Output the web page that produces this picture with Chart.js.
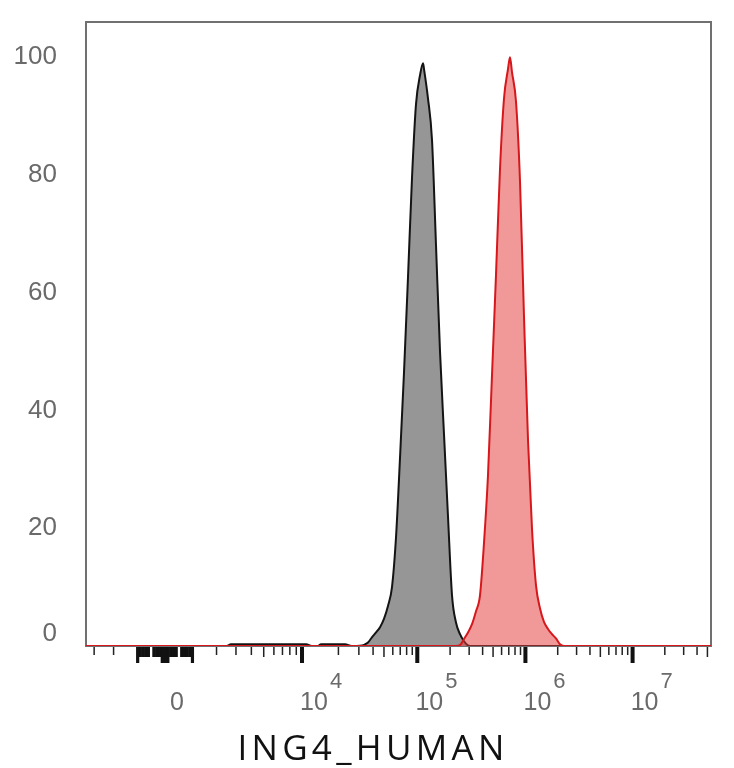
<!DOCTYPE html>
<html>
<head>
<meta charset="utf-8">
<script src="https://cdn.jsdelivr.net/npm/chart.js@4.4.1/dist/chart.umd.min.js"></script>
<style>
  html, body { margin: 0; padding: 0; background: #fff; }
  canvas { display: block; }
</style>
</head>
<body>
<canvas id="chart-ing4" width="734" height="768"></canvas>
<script>
// fluorescence intensity (x) and % of max (y)
const GRAY_X = [-3500, 2500, 2720, 10800, 12000, 13500, 14300, 22800, 26000,
  30700, 33300, 36100, 39200, 42500, 46100, 50000, 54300, 59000, 64100, 69700,
  75700, 82300, 89500, 97300, 106000, 112800, 115200, 125300, 136300, 148400,
  161500, 175700, 191300, 208300, 226700, 246900, 268800, 292700, 318800, 54000000];
const GRAY_Y = [0, 0, 0.3, 0.3, 0, 0, 0.3, 0.3, 0,
  0.05, 0.2, 0.6, 1.5, 2.3, 3.2, 4.6, 6.8, 10, 18.4, 32,
  46.4, 62.6, 79.5, 92, 97, 99, 98, 93, 86, 68,
  50, 36, 22, 8.6, 4.0, 2.0, 0.8, 0.1, 0, 0];

const RED_X = [-3500, 226700, 246900, 268800, 292700, 318800, 347200, 378100,
  411900, 448600, 488700, 532300, 579900, 631800, 688300, 718400, 749900,
  817000, 890100, 969800, 1057000, 1151000, 1255000, 1367000, 1489000,
  1623000, 1769000, 1927000, 2100000, 2288000, 54000000];
const RED_Y = [0, 0, 0.15, 1.2, 2.3, 3.7, 5.9, 8.6,
  17.5, 29, 46, 63, 81, 93, 98, 100, 97.5,
  92.5, 79, 56, 35, 20, 10.3, 6.4, 4.1,
  2.9, 2.0, 1.3, 0.3, 0, 0];

const Y_TICKS = [0, 20, 40, 60, 80, 100];
const MAJOR_TICKS = [0, 1e4, 1e5, 1e6, 1e7];
const MAJOR_LABELS = ['0', '10', '10', '10', '10'];
const EXPONENTS = ['', '4', '5', '6', '7'];
const NEAR_ZERO_LONG = [-1000, -100, 100, 1000];
const NEAR_ZERO_SHORT = [-900, -800, -700, -600, -400, -300, -200, 200, 300, 400, 600, 700, 800, 900];
const MINOR_TICKS = [-3000, -2000,
  2000, 3000, 4000, 5000, 6000, 7000, 8000, 9000,
  2e4, 3e4, 4e4, 5e4, 6e4, 7e4, 8e4, 9e4,
  2e5, 3e5, 4e5, 5e5, 6e5, 7e5, 8e5, 9e5,
  2e6, 3e6, 4e6, 5e6, 6e6, 7e6, 8e6, 9e6,
  2e7, 3e7, 4e7, 5e7];
const AXIS_TITLE = 'ING4_HUMAN';

// logicle-like display transform (linear near zero, log above)
const LOGICLE_A = 429;
const LOGICLE_P = 2.87;

function logicleF(z) {
  const p = LOGICLE_P;
  return Math.exp(z) - p * p * Math.exp(-z / p) + p * p - 1;
}

function toDisplay(value) {
  const t = Math.abs(value) / LOGICLE_A;
  let lo = 0;
  let hi = 40;
  for (let i = 0; i < 60; i++) {
    const mid = (lo + hi) / 2;
    if (logicleF(mid) < t) lo = mid; else hi = mid;
  }
  return Math.sign(value) * (lo + hi) / 2;
}

function fromDisplay(z) {
  return Math.sign(z) * LOGICLE_A * logicleF(Math.abs(z));
}

class LogicleScale extends Chart.Scale {
  static id = 'logicle';
  static defaults = {};

  determineDataLimits() {
    this.min = this.options.min;
    this.max = this.options.max;
  }

  buildTicks() {
    return MAJOR_TICKS.map((value) => ({ value }));
  }

  configure() {
    super.configure();
    this._zMin = toDisplay(this.min);
    this._zRange = toDisplay(this.max) - this._zMin;
  }

  getPixelForValue(value) {
    return this.getPixelForDecimal((toDisplay(value) - this._zMin) / this._zRange);
  }

  getValueForPixel(pixel) {
    return fromDisplay(this.getDecimalForPixel(pixel) * this._zRange + this._zMin);
  }

  getLabelForValue(value) {
    return String(value);
  }
}
Chart.register(LogicleScale);

const frameAndTicks = {
  id: 'frameAndTicks',
  beforeDatasetsDraw(chart) {
    const { ctx, chartArea } = chart;
    ctx.save();
    ctx.strokeStyle = '#707070';
    ctx.lineWidth = 2;
    ctx.strokeRect(chartArea.left, chartArea.top, chartArea.right - chartArea.left, chartArea.bottom - chartArea.top);
    ctx.restore();
  },
  afterDraw(chart) {
    const { ctx, chartArea } = chart;
    const x = chart.scales.x;
    const y0 = chartArea.bottom + 1;
    ctx.save();
    const mark = (value, len, width, color) => {
      const px = x.getPixelForValue(value);
      ctx.fillStyle = color;
      ctx.fillRect(px - width / 2, y0, width, len);
    };
    MINOR_TICKS.forEach((v) => {
      const mid = String(v).startsWith('5');
      mark(v, mid ? 10 : 8, 1.5, '#222');
    });
    NEAR_ZERO_SHORT.forEach((v) => mark(v, 10, 3.2, '#111'));
    NEAR_ZERO_LONG.forEach((v) => mark(v, 16, 3.2, '#111'));
    MAJOR_TICKS.forEach((v) => mark(v, 16, 4, '#111'));

    ctx.fillStyle = '#6a6a6a';
    ctx.font = '22px "Liberation Sans", Arial, sans-serif';
    ctx.textAlign = 'center';
    ctx.textBaseline = 'middle';
    MAJOR_TICKS.forEach((v, i) => {
      if (!EXPONENTS[i]) return;
      ctx.fillText(EXPONENTS[i], x.getPixelForValue(v) + 34, chartArea.bottom + 36);
    });

    // axis title, letter-spaced like the original export
    ctx.fillStyle = '#111';
    ctx.font = '35px "Open Sans", sans-serif';
    ctx.textBaseline = 'alphabetic';
    ctx.letterSpacing = '4.3px';
    ctx.fillText(AXIS_TITLE, chart.width / 2 + 6, chart.height - 8);
    ctx.restore();
  }
};

const toPoints = (xs, ys) => xs.map((x, i) => ({ x, y: ys[i] }));

new Chart(document.getElementById('chart-ing4'), {
  type: 'line',
  data: {
    datasets: [
      {
        label: 'ING4',
        data: toPoints(RED_X, RED_Y),
        borderColor: 'rgb(214, 24, 28)',
        backgroundColor: 'rgba(228, 60, 60, 0.52)',
        borderWidth: 2,
        fill: 'origin',
        pointRadius: 0,
        cubicInterpolationMode: 'monotone'
      },
      {
        label: 'Isotype',
        data: toPoints(GRAY_X, GRAY_Y),
        borderColor: '#141414',
        backgroundColor: 'rgb(150, 150, 150)',
        borderWidth: 2,
        fill: 'origin',
        pointRadius: 0,
        cubicInterpolationMode: 'monotone'
      }
    ]
  },
  options: {
    responsive: false,
    animation: false,
    layout: { padding: { top: 22, right: 23, left: 0, bottom: 0 } },
    plugins: {
      legend: { display: false },
      tooltip: { enabled: false }
    },
    scales: {
      x: {
        type: 'logicle',
        min: -3500,
        max: 54000000,
        grid: { display: false, drawTicks: false },
        border: { display: false },
        ticks: {
          autoSkip: false,
          maxRotation: 0,
          padding: 42,
          labelOffset: 12,
          color: '#6a6a6a',
          font: { family: '"Liberation Sans", Arial, sans-serif', size: 25 },
          callback: (value, index) => MAJOR_LABELS[index]
        },
        afterFit: (scale) => {
          scale.height = 122;
          scale.paddingLeft = 0;
          scale.paddingRight = 0;
        }
      },
      y: {
        min: 0,
        max: 106,
        grid: { display: false, drawTicks: false },
        border: { display: false },
        afterBuildTicks: (scale) => { scale.ticks = Y_TICKS.map((value) => ({ value })); },
        ticks: {
          padding: 29,
          color: '#6a6a6a',
          font: { family: '"Liberation Sans", Arial, sans-serif', size: 26, lineHeight: 0.9 },
          callback: (value) => (value === 0 ? ['0', ''] : String(value))
        },
        afterFit: (scale) => {
          scale.width = 86;
          scale.paddingTop = 0;
          scale.paddingBottom = 0;
        }
      }
    }
  },
  plugins: [frameAndTicks]
});
</script>
</body>
</html>
